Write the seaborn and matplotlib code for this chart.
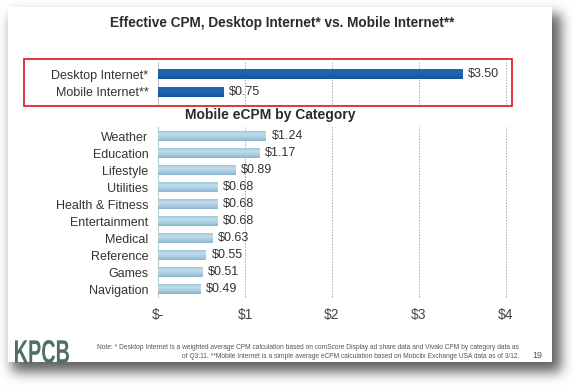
import numpy as np
import matplotlib
matplotlib.use("Agg")
import matplotlib.pyplot as plt
import matplotlib.colors as mcolors
from matplotlib.patches import Rectangle, PathPatch
from matplotlib.textpath import TextPath
from matplotlib.font_manager import FontProperties
from matplotlib.transforms import Affine2D, IdentityTransform
import seaborn as sns

# ---------------- data ----------------
top_labels = ["Desktop Internet*", "Mobile Internet**"]
top_values = [3.50, 0.75]

categories = ["Weather", "Education", "Lifestyle", "Utilities", "Health & Fitness",
              "Entertainment", "Medical", "Reference", "Games", "Navigation"]
cat_values = [1.24, 1.17, 0.89, 0.68, 0.68, 0.68, 0.63, 0.55, 0.51, 0.49]

x_ticks = [0, 1, 2, 3, 4]
x_tick_labels = ["$-", "$1", "$2", "$3", "$4"]

title_top = "Effective CPM, Desktop Internet* vs. Mobile Internet**"
title_bottom = "Mobile eCPM by Category"
note_text = ("Note: * Desktop Internet is a weighted average CPM calculation based on comScore Display ad share data and Vivaki CPM by category data as\n"
             "of Q3:11. **Mobile Internet is a simple average eCPM calculation based on Mobclix Exchange USA data as of 3/12.")
logo_text = "KPCB"

# ---------------- style ----------------
sns.set_theme(style="white")
plt.rcParams["font.family"] = ["Liberation Sans", "DejaVu Sans"]
TXT = "#333333"

W, H = 573, 386
fig = plt.figure(figsize=(W / 100, H / 100), dpi=100)
fig.patch.set_facecolor("white")


def fx(x):
    return x / W


def fy(y):
    return 1 - y / H


# ---------------- slide background with shadow ----------------
def blur1d(a, sigma, axis):
    r = int(3 * sigma)
    k = np.exp(-0.5 * (np.arange(-r, r + 1) / sigma) ** 2)
    k /= k.sum()
    return np.apply_along_axis(lambda v: np.convolve(np.pad(v, r, mode="edge"), k, mode="valid"), axis, a)

mask = np.zeros((H, W))
mask[14:372, 12:561] = 1.0
mask = blur1d(blur1d(mask, 6, 0), 6, 1)
shade = 1 - 0.62 * mask
img = np.dstack([shade, shade, shade])
img[7:362, 8:552, :] = 1.0
bg = fig.add_axes([0, 0, 1, 1])
bg.imshow(img, extent=(0, W, H, 0), aspect="auto", interpolation="bilinear")
bg.set_xlim(0, W)
bg.set_ylim(H, 0)
bg.axis("off")
bg.set_zorder(-10)

# ---------------- helpers ----------------
def gradient_bars(ax, colors):
    cmap = mcolors.LinearSegmentedColormap.from_list("g", colors)
    grad = np.linspace(0, 1, 64).reshape(-1, 1)
    for p in list(ax.patches):
        x0, y0, w, h = p.get_x(), p.get_y(), p.get_width(), p.get_height()
        ax.imshow(grad, cmap=cmap, extent=(x0, x0 + w, y0 + h, y0), aspect="auto",
                  interpolation="bilinear", zorder=3)
        p.set_alpha(0)


def style_axis(ax, ylim):
    ax.set_facecolor("none")
    ax.set_xlim(0, 4.0)
    ax.set_ylim(*ylim)
    for s in ["top", "right", "bottom"]:
        ax.spines[s].set_visible(False)
    ax.spines["left"].set_color("#c8c8c8")
    ax.spines["left"].set_linewidth(0.8)
    for xv in x_ticks[1:]:
        ax.axvline(xv, color="#a8a8a8", lw=0.7, ls=(0, (1.5, 1.5)), zorder=1, clip_on=False)
    ax.tick_params(axis="y", length=0, pad=7, labelsize=9, labelcolor=TXT)
    ax.set_xlabel("")
    ax.set_ylabel("")


# ---------------- top chart ----------------
ax1 = fig.add_axes([fx(158), fy(104), fx(506 - 158), (104 - 62) / H])
sns.barplot(x=top_values, y=top_labels, ax=ax1, color="#1c5ea8", width=0.56, orient="h", saturation=1)
gradient_bars(ax1, ["#2466b2", "#1f62ae", "#18549a"])
style_axis(ax1, (1.69, -0.71))
ax1.set_xticks([])
ax1.bar_label(ax1.containers[0], labels=[f"${v:.2f}" for v in top_values],
              padding=4, fontsize=9, color=TXT)

# red frame
fig.patches.append(Rectangle((fx(24), fy(106)), fx(512 - 24), (106 - 59) / H,
                             transform=fig.transFigure, fill=False,
                             edgecolor="#e2242a", lw=1.3, zorder=5))

# ---------------- bottom chart ----------------
ax2 = fig.add_axes([fx(158), fy(297), fx(506 - 158), (297 - 127) / H])
sns.barplot(x=cat_values, y=categories, ax=ax2, color="#9cc3da", width=0.58, orient="h", saturation=1)
gradient_bars(ax2, ["#a3c6db", "#c2dcea", "#a9cce0", "#8db5cd"])
style_axis(ax2, (9.45, -0.55))
ax2.set_xticks(x_ticks)
ax2.set_xticklabels(x_tick_labels)
ax2.tick_params(axis="x", length=0, pad=8, labelsize=10, labelcolor="#444444")
ax2.bar_label(ax2.containers[0], labels=[f"${v:.2f}" for v in cat_values],
              padding=4, fontsize=9, color=TXT)

# ---------------- titles & footer ----------------
fig.text(fx(282), fy(23), title_top, ha="center", va="center", fontsize=9.8,
         fontweight="bold", color="#2b2b2b")
fig.text(fx(270), fy(115), title_bottom, ha="center", va="center", fontsize=10,
         fontweight="bold", color="#2b2b2b")
fig.text(fx(519), fy(352), note_text, ha="right", va="center", multialignment="right",
         fontsize=4.8, color="#555555", linespacing=1.5)
fig.text(fx(537), fy(355), "19", ha="center", va="center", fontsize=6.5, color="#555555")

# condensed logo: text path squeezed into the logo box (pixel coords)
tp = TextPath((0, 0), logo_text, size=30, prop=FontProperties(family="Liberation Sans", weight="bold"))
ext = tp.get_extents()
sx = (69 - 15) / ext.width
sy = (363 - 340) / ext.height
tr = Affine2D().translate(-ext.x0, -ext.y0).scale(sx, sy).translate(15, H - 363)
logo = PathPatch(tr.transform_path(tp), facecolor="#4f6e69", edgecolor="none", zorder=5)
logo.set_transform(IdentityTransform())
fig.patches.append(logo)

fig.savefig("out.png", dpi=100)
